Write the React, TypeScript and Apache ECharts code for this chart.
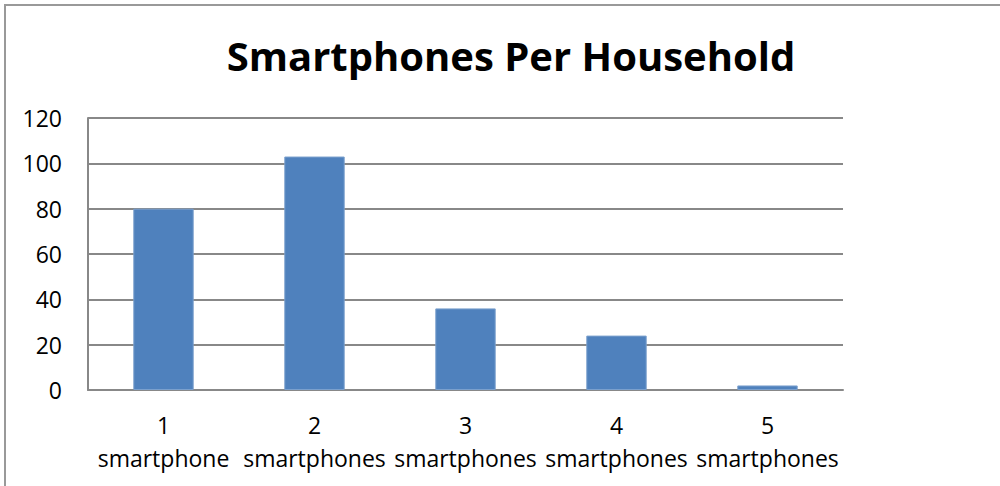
import React, { useEffect, useRef } from "react";
import * as echarts from "echarts";

const categories = ["1\nsmartphone", "2\nsmartphones", "3\nsmartphones", "4\nsmartphones", "5\nsmartphones"];
const households = [80, 103, 36, 24, 2];
const titleText = "Smartphones Per Household";

export default function App() {
  const ref = useRef<HTMLDivElement>(null);
  useEffect(() => {
    if (!ref.current) return;
    const chart = echarts.init(ref.current, null, { renderer: "svg" });
    chart.setOption({
      animation: false,
      backgroundColor: "#ffffff",
      title: {
        text: titleText,
        left: 506,
        textAlign: "center",
        top: 30,
        textStyle: { fontFamily: "Open Sans", fontWeight: "bold", fontSize: 40, color: "#000" },
      },
      graphic: [
        {
          type: "rect",
          shape: { x: 5, y: 5, width: 1100, height: 600 },
          style: { fill: "none", stroke: "#999999", lineWidth: 2 },
          silent: true,
        },
      ],
      grid: { left: 88, right: 157, top: 118, bottom: 96, containLabel: false },
      xAxis: {
        type: "category",
        data: categories,
        axisLine: { show: true, lineStyle: { color: "#888888", width: 2 } },
        axisTick: { show: false },
        axisLabel: {
          interval: 0,
          margin: 18,
          fontFamily: "Open Sans",
          fontSize: 23,
          lineHeight: 33,
          color: "#000",
        },
      },
      yAxis: {
        type: "value",
        min: 0,
        max: 120,
        interval: 20,
        axisLine: { show: true, lineStyle: { color: "#888888", width: 2 } },
        axisTick: { show: false },
        splitLine: { show: true, lineStyle: { color: "#888888", width: 2 } },
        axisLabel: { margin: 26, fontFamily: "Open Sans", fontSize: 23, color: "#000" },
      },
      series: [
        {
          type: "bar",
          data: households,
          barWidth: "40%",
          itemStyle: { color: "#4F81BD", borderColor: "#7BA0CD", borderWidth: 1 },
        },
      ],
    });
    return () => chart.dispose();
  }, []);
  return (
    <div
      ref={ref}
      style={{ position: "fixed", left: 0, top: 0, width: 1000, height: 486 }}
    />
  );
}
